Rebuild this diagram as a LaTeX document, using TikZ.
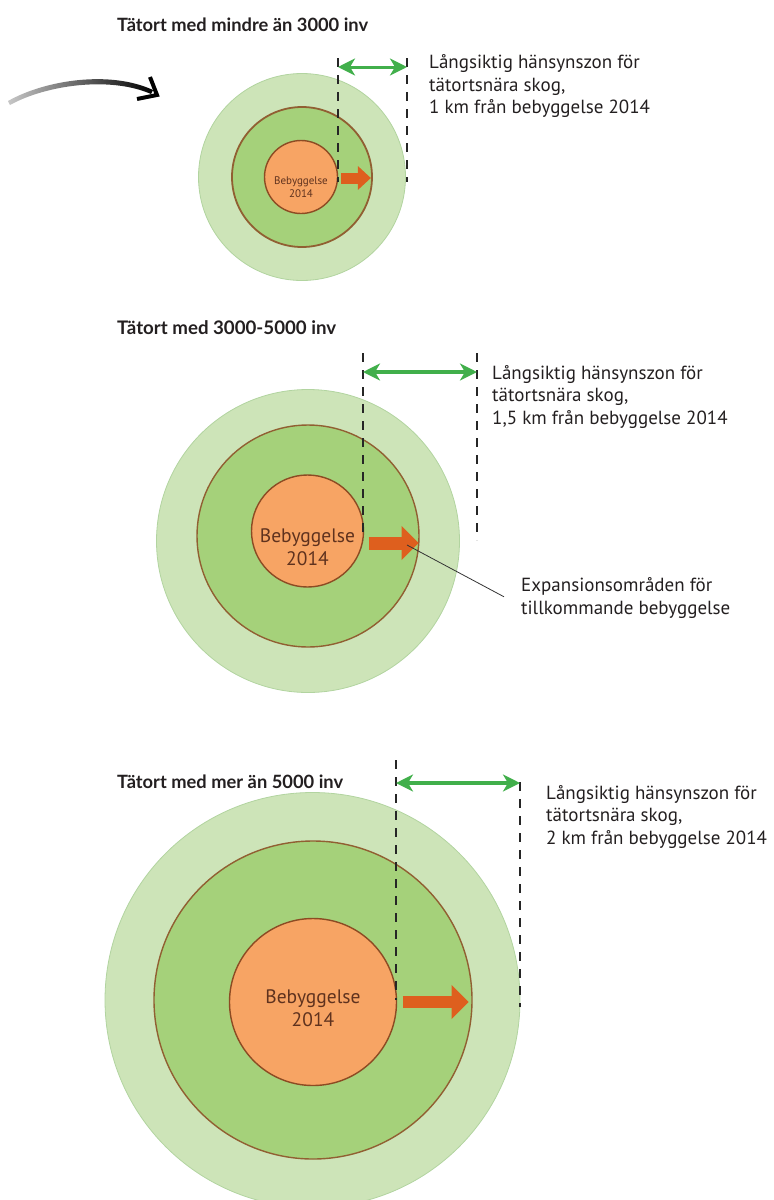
\documentclass[tikz,border=0pt]{standalone}
\usepackage{graphicx}
\usepackage{fontspec}
\setmainfont{PT Sans}
\newfontfamily\headfont{Lato}
\usetikzlibrary{arrows.meta, positioning, calc}

\definecolor{zonelight}{RGB}{205,228,184}
\definecolor{zonelightedge}{RGB}{178,212,160}
\definecolor{zonemid}{RGB}{165,209,122}
\definecolor{zoneedge}{RGB}{145,95,50}
\definecolor{townfill}{RGB}{247,164,100}
\definecolor{townedge}{RGB}{140,75,35}
\definecolor{towntext}{RGB}{95,50,30}
\definecolor{groworange}{RGB}{222,95,30}
\definecolor{zonegreen}{RGB}{65,175,75}
\definecolor{inktext}{RGB}{35,31,32}

\begin{document}
\begin{tikzpicture}[
  x=1pt, y=-1pt,
  casetitle/.style={anchor=base west, inner sep=0, text=inktext,
                    font=\headfont\bfseries\fontsize{18.5}{22}\selectfont},
  note/.style={anchor=base west, inner sep=0, align=left, text=inktext,
               font=\fontsize{19}{22.5}\selectfont},
  outerzone/.style={circle, inner sep=0, fill=zonelight, draw=zonelightedge,
                    line width=0.8pt, minimum size=#1},
  midzone/.style={circle, inner sep=0, fill=zonemid, draw=zoneedge,
                  line width=1.4pt, minimum size=#1},
  town/.style={circle, inner sep=0, fill=townfill, draw=townedge,
               line width=1.4pt, minimum size=#1},
  townlabel/.style={inner sep=0, align=center, text=towntext,
                    font=\fontsize{19.5}{23.5}\selectfont},
  growth/.style={draw=groworange, line width=12pt,
                 -{Triangle[length=17pt, width=33pt]}},
  zonespan/.style={draw=zonegreen, line width=3.2pt,
                   {Stealth[length=17pt, width=17pt, inset=5pt]}-{Stealth[length=17pt, width=17pt, inset=5pt]}},
  limitline/.style={draw=black!85, line width=1.1pt, dash pattern=on 9pt off 8pt},
  leader/.style={draw=black!80, line width=0.8pt}
]
\useasboundingbox (0,0) rectangle (774,1200);

%% Curved pointer, top left
\shade[left color=black!22, right color=black]
  (8,101) .. controls (45,80) and (110,70) .. (153,90)
  -- (151,94) .. controls (110,76) and (46,85) .. (10,105) -- cycle;
\draw[line width=4pt, line join=miter] (150,77) -- (157,95) -- (137,99);

%% Case 1: less than 3000 inhabitants
\node[casetitle] (t1) at (117,31) {\resizebox{251pt}{!}{Tätort med mindre än 3000 inv}};
\node[outerzone=207pt] (o1) at (302,177) {};
\node[midzone=140pt, line width=1.8pt] (m1) at (302,177) {};
\node[town=73pt] (c1) at (301,177) {};
\node[townlabel, font=\fontsize{11}{12.5}\selectfont] (b1) at (301,187) {Bebyggelse\\2014};
\draw[growth, line width=11pt, -{Triangle[length=13pt, width=23pt]}]
  ($(c1.east)+(3,1)$) -- ($(m1.east)+(-2,1)$);
\coordinate (d1a) at (338,58);
\coordinate (d1b) at (407,58);
\draw[limitline] (d1a) -- ++(0,124);
\draw[limitline] (d1b) -- ++(0,124);
\draw[zonespan, line width=3pt] ($(d1a)+(0,9)$) -- ($(d1b)+(0,9)$);
\node[note] (l1) at (429,113.5)
  {Långsiktig hänsynszon för\\tätortsnära skog,\\1 km från bebyggelse 2014};

%% Case 2: 3000-5000 inhabitants
\node[casetitle] (t2) at (117,334) {\resizebox{219pt}{!}{Tätort med 3000-5000 inv}};
\node[outerzone=303pt] (o2) at (308,541) {};
\node[midzone=222pt] (m2) at (308,536) {};
\node[town=112pt] (c2) at (307.5,531) {};
\node[townlabel] (b2) at (307.5,547) {Bebyggelse\\2014};
\draw[growth, line width=13pt] ($(c2.east)+(4.5,12)$) -- ($(m2.east)+(-1,7)$);
\coordinate (d2a) at (363,353);
\coordinate (d2b) at (477,353);
\draw[limitline] (d2a) -- ++(0,187);
\draw[limitline] (d2b) -- ++(0,187);
\draw[zonespan] ($(d2a)+(0,19)$) -- ($(d2b)+(0,19)$);
\node[note] (l2) at (492,424)
  {Långsiktig hänsynszon för\\tätortsnära skog,\\1,5 km från bebyggelse 2014};
\node[note] (e2) at (521,614)
  {Expansionsområden för\\tillkommande bebyggelse};
\coordinate (x2) at (407,545);
\draw[leader] (x2) -- ($(e2.west)+(-17,-1)$);

%% Case 3: more than 5000 inhabitants
\node[casetitle] (t3) at (117,788) {\resizebox{226pt}{!}{Tätort med mer än 5000 inv}};
\node[outerzone=415pt] (o3) at (312.5,1000) {};
\node[midzone=318pt] (m3) at (313,1000) {};
\node[town=167pt] (c3) at (313,1002) {};
\node[townlabel] (b3) at (313,1008) {Bebyggelse\\2014};
\draw[growth] ($(c3.east)+(5.5,0)$) -- ($(m3.east)+(-4,2)$);
\coordinate (d3a) at (396,760);
\coordinate (d3b) at (520,782);
\draw[limitline] (d3a) -- ++(0,240);
\draw[limitline] (d3b) -- ++(0,225);
\draw[zonespan] ($(d3a)+(0,23)$) -- ($(d3b)+(0,1)$);
\node[note] (l3) at (546,844)
  {Långsiktig hänsynszon för\\tätortsnära skog,\\2 km från bebyggelse 2014};

\end{tikzpicture}
\end{document}
